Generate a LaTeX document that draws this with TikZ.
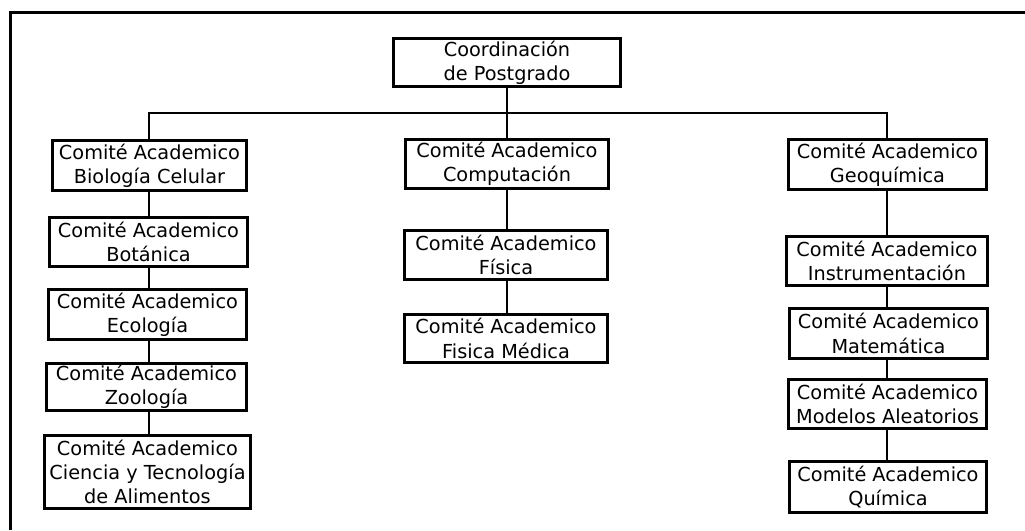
\documentclass[tikz,border=0pt]{standalone}
\usepackage{fontspec}
\setmainfont{DejaVu Sans}
\begin{document}
\begin{tikzpicture}[x=1pt,y=-1pt,
  unit/.style={draw=black, line width=2.8pt, fill=white, rectangle,
    align=center, inner sep=0pt,
    font=\fontsize{19.3}{24.3}\selectfont},
  link/.style={draw=black, line width=2.9pt}]
\useasboundingbox (0,0) rectangle (1025,530);
% outer frame (top and left edges)
\draw[line width=3pt, line join=miter] (1025,12) -- (10,12) -- (10,530);

% head office
\node[unit, minimum width=227pt, minimum height=48pt] (top) at (507,62.5) {Coordinación\\de Postgrado};

% left column
\node[unit, minimum width=194pt, minimum height=50pt] (bio) at (149.5,165.5) {Comité Academico\\Biología Celular};
\node[unit, minimum width=198pt, minimum height=49pt] (bot) at (148.5,242) {Comité Academico\\Botánica};
\node[unit, minimum width=198pt, minimum height=50pt] (eco) at (147.5,314.5) {Comité Academico\\Ecología};
\node[unit, minimum width=200pt, minimum height=47pt] (zoo) at (146.5,387) {Comité Academico\\Zoología};
\node[unit, minimum width=206pt, minimum height=73pt] (cta) at (147.5,472) {Comité Academico\\Ciencia y Tecnología\\de Alimentos};

% middle column
\node[unit, minimum width=203pt, minimum height=49pt] (com) at (507,164) {Comité Academico\\Computación};
\node[unit, minimum width=203pt, minimum height=49pt] (fis) at (506,255) {Comité Academico\\Física};
\node[unit, minimum width=203pt, minimum height=48pt] (fme) at (506,338.5) {Comité Academico\\Fisica Médica};

% right column
\node[unit, minimum width=198pt, minimum height=50pt] (geo) at (887.5,164.5) {Comité Academico\\Geoquímica};
\node[unit, minimum width=201pt, minimum height=49pt] (ins) at (887,261) {Comité Academico\\Instrumentación};
\node[unit, minimum width=198pt, minimum height=50pt] (mat) at (888.5,333.5) {Comité Academico\\Matemática};
\node[unit, minimum width=198pt, minimum height=49pt] (mod) at (887.5,404) {Comité Academico\\Modelos Aleatorios};
\node[unit, minimum width=197pt, minimum height=51pt] (qui) at (888,487) {Comité Academico\\Química};

% distribution bus
\coordinate (busL) at (149,113);
\coordinate (busR) at (887,113);
\coordinate (busM) at (507,113);
\draw[link] (top.south -| busM) -- (com.north -| busM);
\draw[link, line join=miter] (bio.north -| busL) -- (busL) -- (busR) -- (geo.north -| busR);

% column links
\draw[link] (bio.south -| busL) -- (bot.north -| busL);
\draw[link] (bot.south -| busL) -- (eco.north -| busL);
\draw[link] (eco.south -| busL) -- (zoo.north -| busL);
\draw[link] (zoo.south -| busL) -- (cta.north -| busL);
\draw[link] (com.south -| busM) -- (fis.north -| busM);
\draw[link] (fis.south -| busM) -- (fme.north -| busM);
\draw[link] (geo.south -| busR) -- (ins.north -| busR);
\draw[link] (ins.south -| busR) -- (mat.north -| busR);
\draw[link] (mat.south -| busR) -- (mod.north -| busR);
\draw[link] (mod.south -| busR) -- (qui.north -| busR);
\end{tikzpicture}
\end{document}
